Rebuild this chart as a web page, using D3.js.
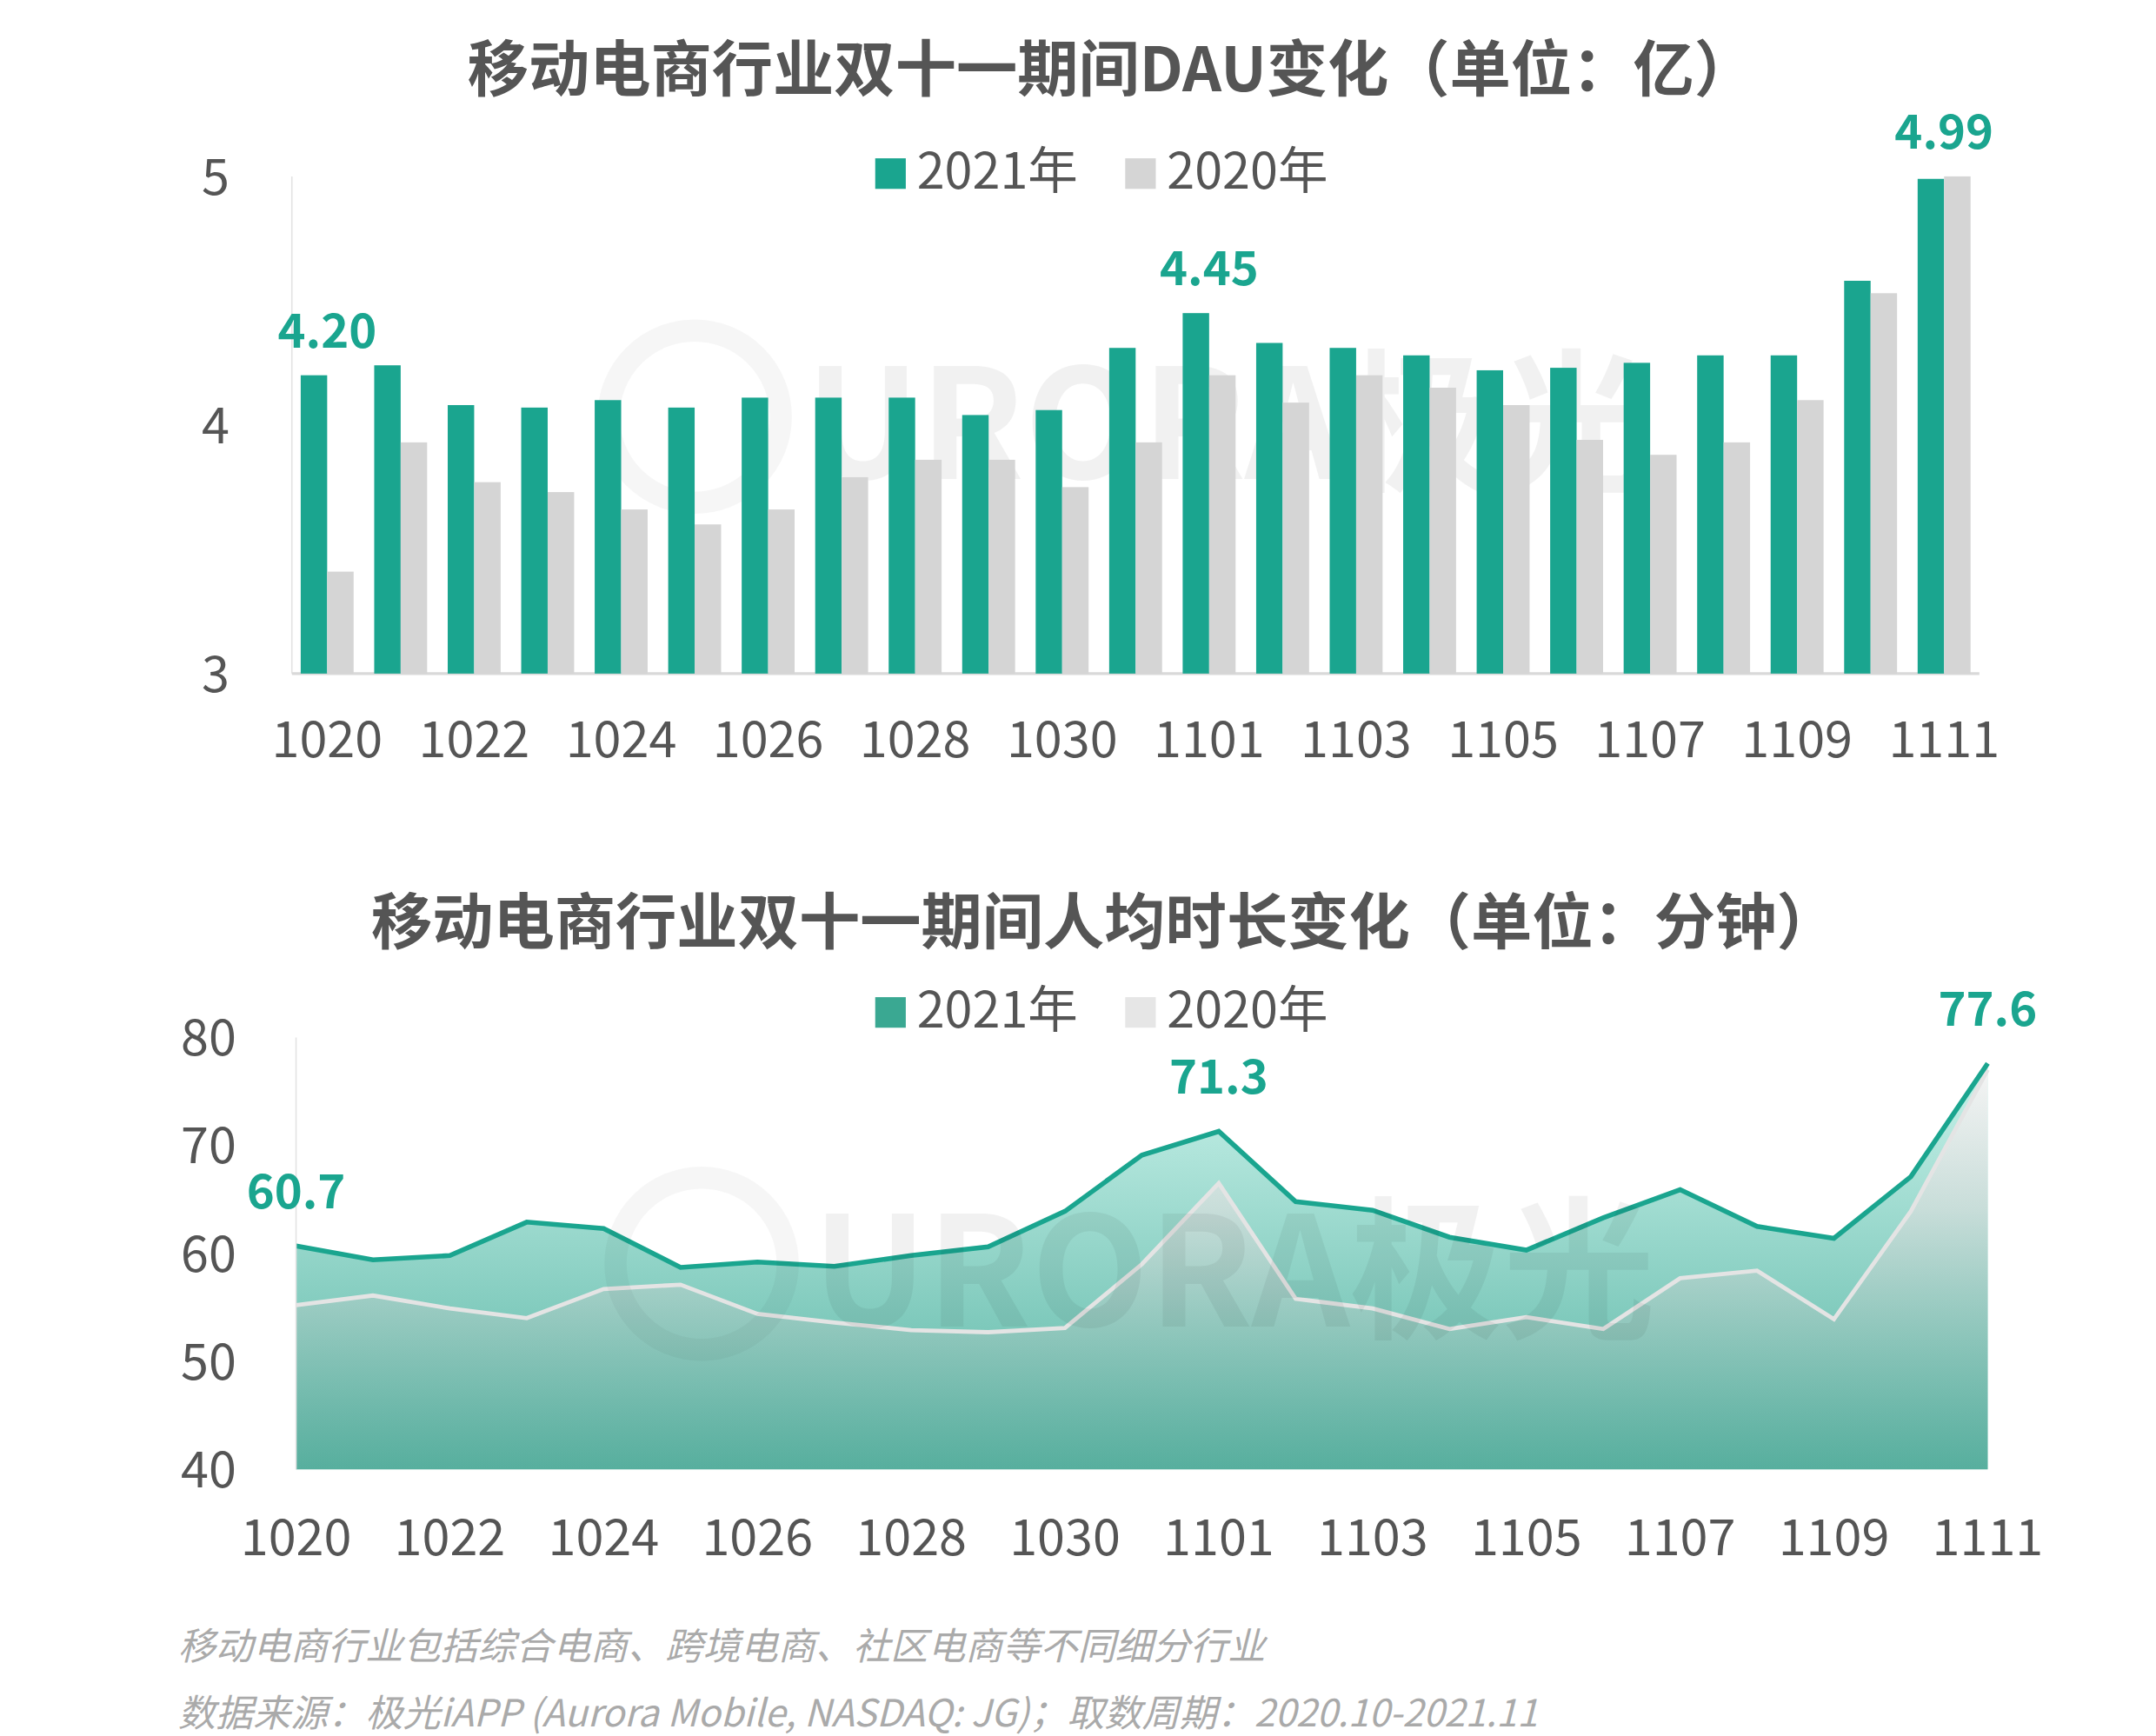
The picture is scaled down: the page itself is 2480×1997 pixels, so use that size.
<!DOCTYPE html>
<html lang="en">
<head>
<meta charset="utf-8">
<title>DAU</title>
<script src="https://d3js.org/d3.v7.min.js"></script>
<style>
  body { margin: 0; background: #fff; }
  text { font-family: "Noto Sans CJK SC", "Noto Sans", sans-serif; }
</style>
</head>
<body>
<svg id="chart" width="2480" height="1997" viewBox="0 0 1552 1250"></svg>
<script>
// data
const days = ["1020","1021","1022","1023","1024","1025","1026","1027","1028","1029","1030","1031",
              "1101","1102","1103","1104","1105","1106","1107","1108","1109","1110","1111"];
const dau2021 = [4.20,4.24,4.08,4.07,4.10,4.07,4.11,4.11,4.11,4.04,4.06,4.31,4.45,4.33,4.31,4.28,4.22,4.23,4.25,4.28,4.28,4.58,4.99];
const dau2020 = [3.41,3.93,3.77,3.73,3.66,3.60,3.66,3.79,3.86,3.86,3.75,3.93,4.20,4.09,4.20,4.15,4.08,3.94,3.88,3.93,4.10,4.53,5.00];
const time2021 = [60.7,59.4,59.8,62.9,62.3,58.7,59.2,58.8,59.8,60.6,63.9,69.1,71.3,64.8,64.0,61.5,60.3,63.3,65.9,62.5,61.4,67.1,77.6];
const time2020 = [55.2,56.1,54.9,54.0,56.7,57.1,54.4,53.6,52.9,52.7,53.1,59.0,66.5,55.8,54.9,53.0,54.1,53.0,57.7,58.4,53.9,63.9,77.0];
const dauTicks = [3,4,5];
const timeTicks = [40,50,60,70,80];
const dauLabels = [0,12,22];
const timeLabels = [0,12,22];

const teal = "#1aa58f", grey = "#d5d5d5", dark = "#555";
const svg = d3.select("#chart");
const defs = svg.append("defs");

// watermark
function watermark(x, y) {
  svg.append("text").attr("x", x).attr("y", y).attr("font-size", 110).attr("font-weight", 700)
     .attr("fill", "#000").attr("opacity", 0.05).attr("font-family", "Roboto, sans-serif")
     .text("URORA极光");
  svg.append("circle").attr("cx", x - 80).attr("cy", y - 45).attr("r", 62)
     .attr("fill", "none").attr("stroke", "#000").attr("stroke-width", 16).attr("opacity", 0.035);
}

// ---------- top chart ----------
svg.append("text").attr("x", 800).attr("y", 66).attr("text-anchor", "middle")
   .attr("font-size", 44).attr("font-weight", 700).attr("fill", dark)
   .text("移动电商行业双十一期间DAU变化（单位：亿）");

const x1 = d3.scaleBand().domain(days).range([210, 1425]).paddingInner(0.28).paddingOuter(0.12);
const y1 = d3.scaleLinear().domain([3, 5]).range([485, 127]);
const bw = x1.bandwidth() / 2;

watermark(580, 345);

svg.append("line").attr("x1", 210).attr("x2", 210).attr("y1", 127).attr("y2", 485).attr("stroke", "#e3e3e3");
svg.append("line").attr("x1", 210).attr("x2", 1425).attr("y1", 485).attr("y2", 485).attr("stroke", "#d9d9d9").attr("stroke-width", 2);

svg.selectAll(".b21").data(dau2021).join("rect")
   .attr("x", (d, i) => x1(days[i])).attr("width", bw)
   .attr("y", d => y1(d)).attr("height", d => 485 - y1(d)).attr("fill", teal);
svg.selectAll(".b20").data(dau2020).join("rect")
   .attr("x", (d, i) => x1(days[i]) + bw).attr("width", bw)
   .attr("y", d => y1(d)).attr("height", d => 485 - y1(d)).attr("fill", grey);

svg.selectAll(".yt1").data(dauTicks).join("text")
   .attr("x", 165).attr("y", d => y1(d) + 13).attr("text-anchor", "end")
   .attr("font-size", 36).attr("fill", dark).text(d => d);
svg.selectAll(".xt1").data(days.filter((d, i) => i % 2 === 0)).join("text")
   .attr("x", d => x1(d) + x1.bandwidth() / 2).attr("y", 545).attr("text-anchor", "middle")
   .attr("font-size", 36).attr("fill", dark).text(d => d);
svg.selectAll(".dl1").data(dauLabels).join("text")
   .attr("x", i => x1(days[i]) + bw).attr("y", i => y1(Math.max(dau2021[i], dau2020[i])) - 20)
   .attr("text-anchor", "middle").attr("font-size", 34).attr("font-weight", 700).attr("fill", teal)
   .text(i => dau2021[i].toFixed(2));

function legend(y, c1, c2) {
  svg.append("rect").attr("x", 630).attr("y", y - 22).attr("width", 22).attr("height", 22).attr("fill", c1);
  svg.append("text").attr("x", 660).attr("y", y).attr("font-size", 36).attr("fill", dark).text("2021年");
  svg.append("rect").attr("x", 810).attr("y", y - 22).attr("width", 22).attr("height", 22).attr("fill", c2);
  svg.append("text").attr("x", 840).attr("y", y).attr("font-size", 36).attr("fill", dark).text("2020年");
}
legend(136, teal, grey);

// ---------- bottom chart ----------
svg.append("text").attr("x", 795).attr("y", 680).attr("text-anchor", "middle")
   .attr("font-size", 44).attr("font-weight", 700).attr("fill", dark)
   .text("移动电商行业双十一期间人均时长变化（单位：分钟）");

const x2 = d3.scalePoint().domain(days).range([213, 1431]);
const y2 = d3.scaleLinear().domain([40, 80]).range([1058, 747]);

const g1 = defs.append("linearGradient").attr("id", "g21").attr("x1", 0).attr("y1", 0).attr("x2", 0).attr("y2", 1);
g1.append("stop").attr("offset", "0%").attr("stop-color", "#c9f2ea");
g1.append("stop").attr("offset", "100%").attr("stop-color", "#55b3a2");
const g2 = defs.append("linearGradient").attr("id", "g20").attr("x1", 0).attr("y1", 0).attr("x2", 0).attr("y2", 1);
g2.append("stop").attr("offset", "0%").attr("stop-color", "#f4f4f4").attr("stop-opacity", 1);
g2.append("stop").attr("offset", "35%").attr("stop-color", "#d9dedd").attr("stop-opacity", 0.7);
g2.append("stop").attr("offset", "100%").attr("stop-color", "#5aa898").attr("stop-opacity", 0.4);

const area = d3.area().x((d, i) => x2(days[i])).y0(1058).y1(d => y2(d));
const line = d3.line().x((d, i) => x2(days[i])).y(d => y2(d));

svg.append("path").datum(time2021).attr("d", area).attr("fill", "url(#g21)");
svg.append("path").datum(time2020).attr("d", area).attr("fill", "url(#g20)");
svg.append("path").datum(time2020).attr("d", line).attr("fill", "none").attr("stroke", "#e4e4e4").attr("stroke-width", 3);
svg.append("path").datum(time2021).attr("d", line).attr("fill", "none").attr("stroke", teal).attr("stroke-width", 3.5);

watermark(585, 955);

svg.append("line").attr("x1", 213).attr("x2", 213).attr("y1", 747).attr("y2", 1058).attr("stroke", "#e3e3e3");
svg.selectAll(".yt2").data(timeTicks).join("text")
   .attr("x", 170).attr("y", d => y2(d) + 13).attr("text-anchor", "end")
   .attr("font-size", 36).attr("fill", dark).text(d => d);
svg.selectAll(".xt2").data(days.filter((d, i) => i % 2 === 0)).join("text")
   .attr("x", d => x2(d)).attr("y", 1120).attr("text-anchor", "middle")
   .attr("font-size", 36).attr("fill", dark).text(d => d);
svg.selectAll(".dl2").data(timeLabels).join("text")
   .attr("x", i => x2(days[i])).attr("y", i => y2(time2021[i]) - 27)
   .attr("text-anchor", "middle").attr("font-size", 34).attr("font-weight", 700).attr("fill", teal)
   .text(i => time2021[i].toFixed(1));

legend(740, "#3aa892", "#e6e6e6");

// footer
svg.append("text").attr("x", 128).attr("y", 1195).attr("font-size", 27).attr("font-style", "italic")
   .attr("fill", "#aaa").text("移动电商行业包括综合电商、跨境电商、社区电商等不同细分行业");
svg.append("text").attr("x", 128).attr("y", 1243).attr("font-size", 27).attr("font-style", "italic")
   .attr("fill", "#aaa").text("数据来源：极光iAPP (Aurora Mobile, NASDAQ: JG)；取数周期：2020.10-2021.11");
svg.append("line").attr("x1", 70).attr("x2", 1498).attr("y1", 1257).attr("y2", 1257).attr("stroke", "#e5e5e5").attr("stroke-width", 2);
</script>
</body>
</html>
